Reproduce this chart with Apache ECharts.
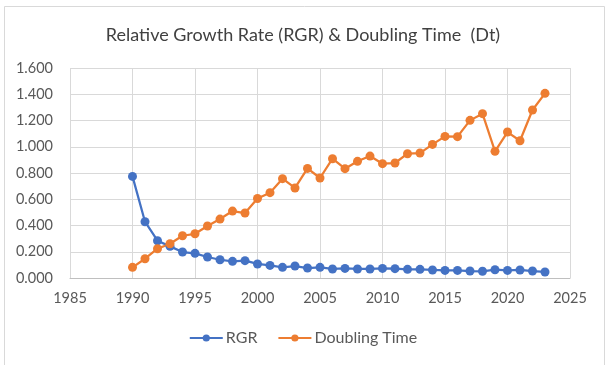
<!DOCTYPE html>
<html>
<head>
<meta charset="utf-8">
<script src="https://cdn.jsdelivr.net/npm/echarts@6/dist/echarts.min.js"></script>
<style>
html,body{margin:0;padding:0;background:#fff;}
#chart{width:606px;height:365px;}
</style>
</head>
<body>
<div id="chart"></div>
<script>
const years = [1990,1991,1992,1993,1994,1995,1996,1997,1998,1999,2000,2001,2002,2003,2004,2005,2006,2007,2008,2009,2010,2011,2012,2013,2014,2015,2016,2017,2018,2019,2020,2021,2022,2023];
const rgr = [0.774,0.429,0.284,0.241,0.198,0.188,0.160,0.139,0.127,0.132,0.107,0.096,0.081,0.091,0.076,0.081,0.069,0.073,0.069,0.069,0.073,0.071,0.066,0.066,0.061,0.058,0.058,0.053,0.051,0.063,0.058,0.061,0.053,0.046];
const dt = [0.081,0.147,0.223,0.261,0.322,0.337,0.396,0.449,0.510,0.495,0.606,0.650,0.757,0.686,0.835,0.762,0.909,0.833,0.889,0.929,0.871,0.876,0.947,0.952,1.018,1.079,1.077,1.201,1.252,0.965,1.112,1.046,1.280,1.407];
const xTicks = {min:1985, max:2025, interval:5};
const yTicks = {min:0, max:1.6, interval:0.2};

const font = 'Lato, "Open Sans", sans-serif';
const chart = echarts.init(document.getElementById('chart'), null, {renderer:'canvas'});
chart.setOption({
  animation:false,
  backgroundColor:'#fff',
  graphic:[{type:'rect', shape:{x:4.5,y:6.5,width:600,height:370}, style:{fill:'none', stroke:'#d9d9d9', lineWidth:1}, silent:true}],
  title:{text:'Relative Growth Rate (RGR) & Doubling Time  (Dt)', left:'center', top:21,
    textStyle:{fontFamily:font, fontSize:18, fontWeight:'normal', color:'#404040'}},
  legend:{bottom:14, left:'center', itemWidth:33, itemHeight:9, itemGap:20,
    textStyle:{fontFamily:font, fontSize:16, color:'#595959', padding:[0,0,0,-2]},
    data:['RGR','Doubling Time']},
  grid:{left:70, right:36, top:68, bottom:87, containLabel:false},
  xAxis:{type:'value', min:xTicks.min, max:xTicks.max, interval:xTicks.interval,
    axisLine:{show:true, lineStyle:{color:'#bfbfbf', width:1}},
    axisTick:{show:false},
    axisLabel:{fontFamily:font, fontSize:14.5, color:'#595959', margin:13, formatter:v=>String(v)},
    splitLine:{show:true, lineStyle:{color:'#d9d9d9', width:1}}},
  yAxis:{type:'value', min:yTicks.min, max:yTicks.max, interval:yTicks.interval,
    axisLine:{show:false}, axisTick:{show:false},
    axisLabel:{fontFamily:font, fontSize:14.5, color:'#595959', margin:17, formatter:v=>v.toFixed(3)},
    splitLine:{show:true, lineStyle:{color:'#d9d9d9', width:1}}},
  series:[
    {name:'RGR', type:'line', data:years.map((y,i)=>[y,rgr[i]]), symbol:'circle', symbolSize:9,
      lineStyle:{color:'#4472C4', width:2.25}, itemStyle:{color:'#4472C4'}},
    {name:'Doubling Time', type:'line', data:years.map((y,i)=>[y,dt[i]]), symbol:'circle', symbolSize:9,
      lineStyle:{color:'#ED7D31', width:2.25}, itemStyle:{color:'#ED7D31'}}
  ]
});
</script>
</body>
</html>
